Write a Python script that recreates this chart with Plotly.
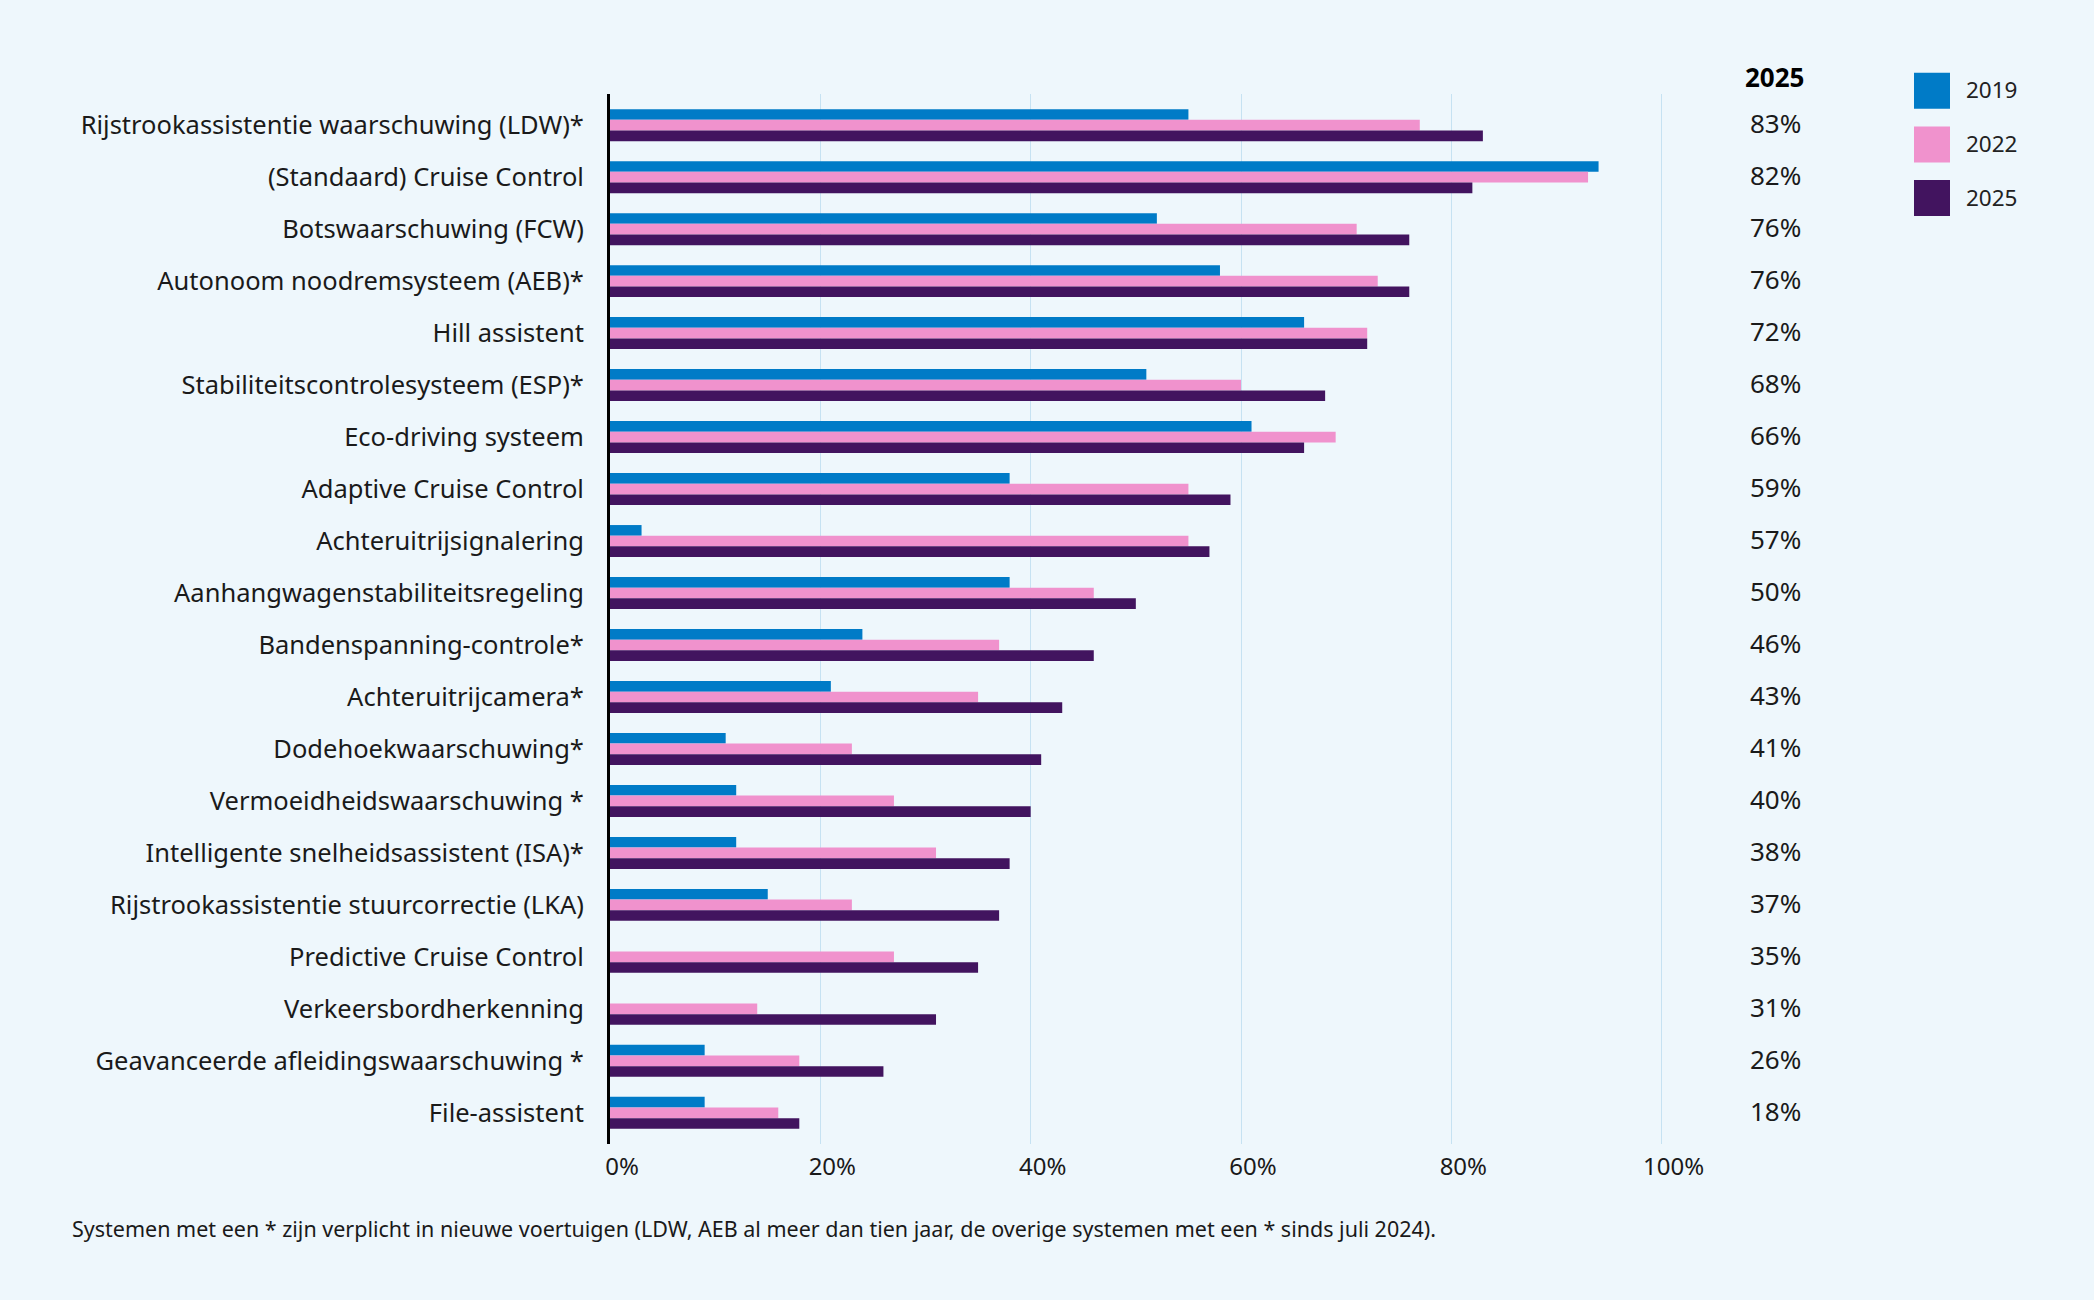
import plotly.graph_objects as go

categories = [
    "Rijstrookassistentie waarschuwing (LDW)*",
    "(Standaard) Cruise Control",
    "Botswaarschuwing (FCW)",
    "Autonoom noodremsysteem (AEB)*",
    "Hill assistent",
    "Stabiliteitscontrolesysteem (ESP)*",
    "Eco-driving systeem",
    "Adaptive Cruise Control",
    "Achteruitrijsignalering",
    "Aanhangwagenstabiliteitsregeling",
    "Bandenspanning-controle*",
    "Achteruitrijcamera*",
    "Dodehoekwaarschuwing*",
    "Vermoeidheidswaarschuwing *",
    "Intelligente snelheidsassistent (ISA)*",
    "Rijstrookassistentie stuurcorrectie (LKA)",
    "Predictive Cruise Control",
    "Verkeersbordherkenning",
    "Geavanceerde afleidingswaarschuwing *",
    "File-assistent",
]
v2019 = [55, 94, 52, 58, 66, 51, 61, 38, 3, 38, 24, 21, 11, 12, 12, 15, None, None, 9, 9]
v2022 = [77, 93, 71, 73, 72, 60, 69, 55, 55, 46, 37, 35, 23, 27, 31, 23, 27, 14, 18, 16]
v2025 = [83, 82, 76, 76, 72, 68, 66, 59, 57, 50, 46, 43, 41, 40, 38, 37, 35, 31, 26, 18]
years = ["2019", "2022", "2025"]
colors = ["#007BC7", "#F092CD", "#42145F"]
tick_vals = [0, 20, 40, 60, 80, 100]
tick_text = ["0%", "20%", "40%", "60%", "80%", "100%"]
footnote = ("Systemen met een * zijn verplicht in nieuwe voertuigen (LDW, AEB al meer dan tien jaar, "
            "de overige systemen met een * sinds juli 2024).")

W, H = 2094, 1300
ML, MR, MT, MB = 610, 222, 94, 156
PW = W - ML - MR
PH = H - MT - MB
FONT = "Noto Sans"
TXT = "#1a1a1a"
BG = "#EEF7FC"


def px(xpix):
    return (xpix - ML) / PW


def py(ypix):
    return (H - MB - ypix) / PH


fig = go.Figure()
for name, vals, col in zip(years, [v2019, v2022, v2025], colors):
    fig.add_trace(go.Bar(
        y=categories, x=vals, name=name, orientation="h",
        marker=dict(color=col, line=dict(width=0)),
        showlegend=False, hovertemplate="%{y}: %{x}%<extra>" + name + "</extra>",
    ))

annotations = []
# right column header and values (2025)
annotations.append(dict(x=110.8, xref="x", y=py(77), yref="paper", text="<b>2025</b>",
                        showarrow=False, xanchor="center", yanchor="middle",
                        font=dict(family=FONT, size=26, color="#000000")))
for c, v in zip(categories, v2025):
    annotations.append(dict(x=110.8, xref="x", y=c, yref="y", text=f"{v}%",
                            showarrow=False, xanchor="center", yanchor="middle", yshift=2,
                            font=dict(family=FONT, size=26, color=TXT)))

# legend
shapes = []
for i, (name, col) in enumerate(zip(years, colors)):
    top = 72.7 + i * 53.7
    shapes.append(dict(type="rect", xref="paper", yref="paper",
                       x0=px(1914), x1=px(1950), y0=py(top + 36), y1=py(top),
                       fillcolor=col, line=dict(width=0)))
    annotations.append(dict(x=px(1964), xref="paper", y=py(top + 17), yref="paper",
                            text=name, showarrow=False, xanchor="left", yanchor="middle",
                            font=dict(family=FONT, size=22.5, color="#222222")))

annotations.append(dict(x=px(70), xref="paper", y=py(1228), yref="paper", text=footnote,
                        showarrow=False, xanchor="left", yanchor="middle",
                        font=dict(family=FONT, size=21.5, color=TXT)))

fig.update_layout(
    width=W, height=H,
    margin=dict(l=ML, r=MR, t=MT, b=MB, autoexpand=False),
    paper_bgcolor=BG, plot_bgcolor=BG,
    barmode="group", bargap=0.385, bargroupgap=0,
    font=dict(family=FONT, color=TXT),
    annotations=annotations, shapes=shapes,
)
fig.update_xaxes(
    range=[0, 120], tickvals=tick_vals, ticktext=tick_text,
    showgrid=True, gridcolor="#C6E2F2", gridwidth=1,
    zeroline=False, showline=False, ticks="",
    tickfont=dict(family=FONT, size=24, color=TXT),
    ticklabelshift=12, ticklabelstandoff=6, fixedrange=True,
)
fig.update_yaxes(
    type="category", categoryorder="array", categoryarray=categories,
    range=[19.6, -0.6], showgrid=False, zeroline=False,
    showline=True, linecolor="#000000", linewidth=3,
    ticks="", tickfont=dict(family=FONT, size=25.5, color=TXT),
    ticklabelstandoff=18, fixedrange=True,
)

fig.write_html("out.html")
